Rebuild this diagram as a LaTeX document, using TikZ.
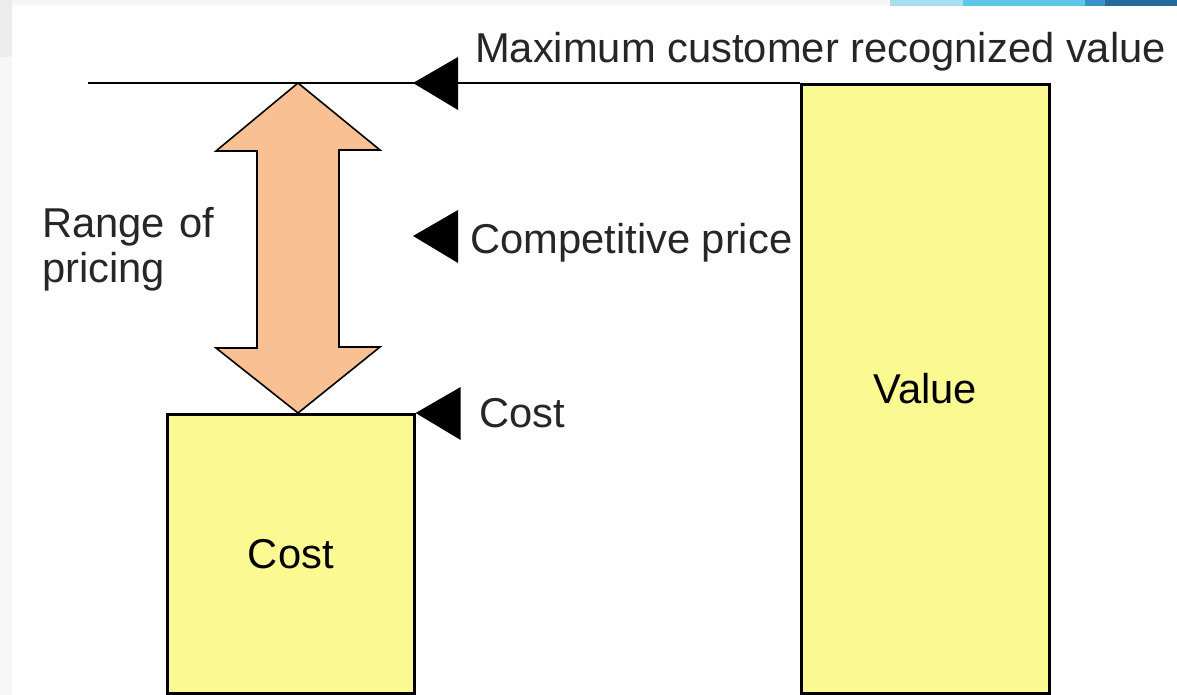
\documentclass[tikz,border=0pt]{standalone}
\usepackage{fontspec}
\setmainfont{Liberation Sans}
\definecolor{barfill}{HTML}{FBFA92}
\definecolor{rangefill}{HTML}{F9C193}
\definecolor{slidegray}{HTML}{ECECEC}
\definecolor{slidegraylight}{HTML}{F6F6F6}
\definecolor{bandlight}{HTML}{A8DCEF}
\definecolor{bandcyan}{HTML}{5CC8E8}
\definecolor{bandmid}{HTML}{3B91C9}
\definecolor{banddark}{HTML}{246A9C}
\tikzset{
  bar/.style={draw=black, line width=2.6pt, fill=barfill, inner sep=0pt},
  label/.style={inner sep=0pt, text=black!85},
  marker/.style={fill=black},
  level/.style={draw=black, line width=2pt}
}
\begin{document}
\begin{tikzpicture}[x=1pt, y=-1pt, font=\fontsize{41.7}{45}\selectfont]
\useasboundingbox (0,0) rectangle (1177,695);
\fill[white] (0,0) rectangle (1177,695);
% slide margins and the coloured bands along the top edge
\fill[slidegraylight] (0,0) rectangle (1177,5);
\fill[slidegraylight] (0,0) rectangle (12,695);
\fill[slidegray] (0,0) rectangle (12,57);
\fill[bandlight] (890,0) rectangle (963,6);
\fill[bandcyan] (963,0) rectangle (1085,6);
\fill[bandmid] (1085,0) rectangle (1105,6);
\fill[banddark] (1105,0) rectangle (1177,6);

% the two bars
\node[bar, anchor=north west, minimum width=248pt, minimum height=609pt] (value) at (800,83) {Value};
\node[bar, anchor=north west, minimum width=247pt, minimum height=279pt] (cost) at (166,413) {Cost};

% level of the maximum recognised value
\coordinate (maxstart) at (88,83);
\draw[level] (maxstart) -- (value.north west);

% range of pricing: double arrow between the value level and the cost bar
\coordinate (rtop) at (298,83);
\coordinate (rbot) at (cost.north -| rtop);
\filldraw[fill=rangefill, draw=black, line width=1.6pt, line join=miter]
  (rtop) -- ++(82,67) -- ++(-41,0) -- ++(0,197) -- ++(41,0)
  -- (rbot) -- ++(-82,-65) -- ++(41,0) -- ++(0,-197) -- ++(-41,0) -- cycle;

% level markers
\coordinate (mmax) at (413,83);
\coordinate (mcomp) at (413,236);
\coordinate (mcost) at (cost.north east);
\foreach \m in {mmax, mcomp, mcost}
  \fill[marker] (\m) -- ++(45,-26) -- ++(0,53) -- cycle;

% labels
\node[label, anchor=base west] (lmax) at (475,63) {Maximum customer recognized value};
\node[label, anchor=base west] (lcomp) at (470,253) {Competitive price};
\node[label, anchor=base west] (lcost) at (479,427) {Cost};
\node[label, anchor=base west] (lrange1) at (42,237) {Range\hspace{0.06em} of};
\node[label, anchor=base west] (lrange2) at (42,282) {pricing};
\end{tikzpicture}
\end{document}
